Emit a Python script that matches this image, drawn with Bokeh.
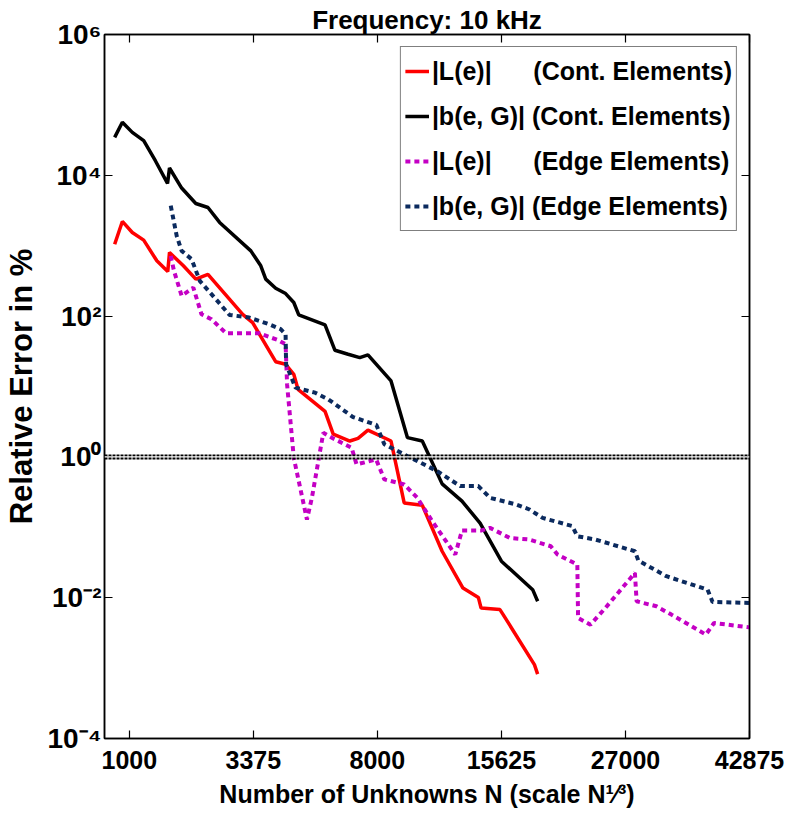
import numpy as np
from bokeh.plotting import figure
from bokeh.models import (FixedTicker, LinearAxis, LogAxis, Span,
                          Legend, LegendItem, CustomJSTickFormatter)
from bokeh.embed import file_html
from bokeh.resources import INLINE

FONT = "'Liberation Sans', Arial, sans-serif"

title_text = "Frequency: 10 kHz"
x_label = "Number of Unknowns N (scale N\u00b9\u2044\u00b3)"
y_label = "Relative Error in %"

x_tick_N = [1000, 3375, 8000, 15625, 27000, 42875]
y_tick_exp = [-4, -2, 0, 2, 4, 6]

legend_labels = [
    "|L(e)|" + "\u00a0" * 6 + "(Cont. Elements)",
    "|b(e, G)| (Cont. Elements)",
    "|L(e)|" + "\u00a0" * 6 + "(Edge Elements)",
    "|b(e, G)| (Edge Elements)",
]

# x values are N^(1/3), errors in %
cont_L_x = [9.41, 9.72, 10.12, 10.58, 11.11, 11.55, 11.62, 12.18, 12.68, 13.17, 14.57, 14.97,
            15.90, 16.30, 16.63, 16.80, 17.89, 18.22, 18.89, 19.22, 19.62, 20.55, 21.08, 21.81,
            22.61, 23.45, 24.07, 24.18, 24.94, 25.07, 26.33, 26.46]
cont_L_err = [1050, 2210, 1540, 1200, 610, 430, 800, 518, 335, 392, 106, 80.9,
              22.5, 20.7, 14.9, 9.12, 4.42, 2.11, 1.68, 1.83, 2.40, 1.68, 0.222, 0.206,
              0.0457, 0.0137, 0.0101, 0.00714, 0.00678, 0.00575, 0.00112, 0.000822]

cont_b_x = [9.41, 9.72, 10.12, 10.58, 11.05, 11.54, 11.62, 12.11, 12.68, 13.17, 13.64, 14.90,
            15.30, 15.50, 15.90, 16.30, 16.63, 16.83, 17.89, 18.29, 18.82, 19.29, 19.62, 20.55,
            21.21, 21.81, 22.61, 23.41, 24.14, 25.00, 26.26, 26.46]
cont_b_err = [34600, 56600, 40700, 31000, 16100, 7670, 12700, 6590, 3980, 3490, 2140, 845,
              518, 335, 249, 209, 156, 104, 75.0, 32.7, 28.7, 25.7, 28.1, 12.0,
              1.88, 1.68, 0.414, 0.235, 0.115, 0.033, 0.0130, 0.00889]

edge_L_x = [11.67, 11.80, 12.11, 12.58, 12.91, 13.31, 13.90, 15.23, 15.97, 16.30, 16.36, 16.63,
            17.16, 17.36, 17.82, 18.22, 18.96, 19.16, 19.95, 20.28, 21.08, 21.61, 22.21, 23.14,
            23.41, 24.20, 24.54, 25.34, 26.13, 26.99, 27.26, 28.06, 28.09, 28.59, 29.19, 30.38,
            30.45, 31.25, 31.85, 33.24, 33.57, 35.0]
edge_L_err = [718, 440, 194, 254, 106, 90.4, 57.1, 57.1, 45.9, 39.8, 10.7, 0.970,
              0.129, 0.262, 2.20, 1.83, 1.35, 0.782, 0.920, 0.479, 0.406, 0.262, 0.122, 0.0410,
              0.0902, 0.0902, 0.0982, 0.0706, 0.0670, 0.0538, 0.0410, 0.0296, 0.00515, 0.00414, 0.00714, 0.0225,
              0.00889, 0.00755, 0.00575, 0.00299, 0.00437, 0.00379]

edge_b_x = [11.67, 11.91, 12.11, 12.51, 12.84, 13.31, 14.04, 14.83, 15.63, 16.10, 16.30, 16.32,
            16.70, 17.49, 18.02, 19.02, 19.96, 20.28, 21.48, 22.41, 23.34, 24.07, 24.54, 25.60,
            26.13, 26.66, 27.86, 28.06, 28.79, 30.38, 30.52, 31.65, 33.31, 33.51, 35.0]
edge_b_err = [3700, 1380, 845, 644, 317, 205, 104, 95.3, 76.7, 65.2, 55.3, 20.7,
              9.62, 8.17, 6.58, 3.68, 2.84, 1.51, 0.920, 0.628, 0.385, 0.385, 0.262, 0.211,
              0.179, 0.136, 0.104, 0.0746, 0.0670, 0.0457, 0.0337, 0.0202, 0.0130, 0.00869, 0.00841]

x_start, x_end = 9, 35
y_start, y_end = 1e-4, 1e6

SUP = str.maketrans("-0123456789", "\u207b\u2070\u00b9\u00b2\u00b3\u2074\u2075\u2076\u2077\u2078\u2079")
x_ticks = [int(round(float(np.cbrt(n)))) for n in x_tick_N]
y_ticks = [10.0 ** e for e in y_tick_exp]
y_tick_text = ["10" + str(e).translate(SUP) for e in y_tick_exp]

W, H = 792, 826
p = figure(width=W, height=H, x_range=(x_start, x_end), y_range=(y_start, y_end),
           y_axis_type="log", output_backend="svg", toolbar_location=None,
           min_border_left=97, min_border_right=W - 749, min_border_top=34,
           min_border_bottom=H - 738)
p.background_fill_color = "white"
p.border_fill_color = "white"
p.outline_line_color = "black"
p.outline_line_width = 1.5
p.xgrid.visible = False
p.ygrid.visible = False

p.title.text = title_text
p.title.align = "center"
p.title.text_font = FONT
p.title.text_font_style = "bold"
p.title.text_font_size = "26px"
p.title.text_color = "black"
p.title.standoff = 0
p.title.offset = 0

def style_axis(ax):
    ax.axis_line_color = "black"
    ax.axis_line_width = 1.5
    ax.major_tick_in = 8
    ax.major_tick_out = 0
    ax.major_tick_line_width = 1.2
    ax.major_tick_line_color = "black"
    ax.minor_tick_line_color = None
    ax.major_label_text_color = "black"
    ax.axis_label_text_color = "black"

# bottom axis
xa = p.xaxis[0]
xa.ticker = FixedTicker(ticks=x_ticks)
xa.major_label_overrides = {t: str(n) for t, n in zip(x_ticks, x_tick_N)}
xa.major_label_text_font = FONT
xa.major_label_text_font_style = "bold"
xa.major_label_text_font_size = "25px"
xa.major_label_standoff = 12
xa.axis_label = x_label
xa.axis_label_text_font = FONT
xa.axis_label_text_font_style = "bold"
xa.axis_label_text_font_size = "25px"
xa.axis_label_standoff = 8
style_axis(xa)

# left axis
ya = p.yaxis[0]
ya.ticker = FixedTicker(ticks=y_ticks)
ya.major_label_overrides = {t: s for t, s in zip(y_ticks, y_tick_text)}
ya.major_label_text_font = FONT
ya.major_label_text_font_style = "bold"
ya.major_label_text_font_size = "28px"
ya.major_label_standoff = 3
ya.axis_label = y_label
ya.axis_label_text_font = FONT
ya.axis_label_text_font_style = "bold"
ya.axis_label_text_font_size = "31px"
ya.axis_label_standoff = 6
style_axis(ya)

# mirrored top / right axes (ticks only)
blank = CustomJSTickFormatter(code="return ''")
top = LinearAxis(ticker=FixedTicker(ticks=x_ticks), formatter=blank,
                 major_label_text_font_size="1px", major_label_standoff=0)
style_axis(top)
p.add_layout(top, "above")
right = LogAxis(ticker=FixedTicker(ticks=y_ticks), formatter=blank,
                major_label_text_font_size="1px", major_label_standoff=0)
style_axis(right)
p.add_layout(right, "right")

# data lines
r1 = p.line(cont_L_x, cont_L_err, line_color="#ff0000", line_width=3.5)
r2 = p.line(cont_b_x, cont_b_err, line_color="black", line_width=3.5)
r3 = p.line(edge_L_x, edge_L_err, line_color="#c400c4", line_width=4, line_dash="5 4")
r4 = p.line(edge_b_x, edge_b_err, line_color="#0b2a5e", line_width=4, line_dash="5 4")

# 100 % reference level (double dotted)
p.add_layout(Span(location=1, dimension="width", line_color="black", line_width=5,
                  line_dash="3 1"))
p.add_layout(Span(location=1, dimension="width", line_color="white", line_width=1.2))

legend = Legend(items=[LegendItem(label=lab, renderers=[r]) for lab, r in
                       zip(legend_labels, [r1, r2, r3, r4])],
                location="top_right")
legend.margin = 12
legend.padding = 4
legend.spacing = 5
legend.glyph_width = 24
legend.glyph_height = 40
legend.label_height = 40
legend.label_standoff = 3
legend.label_text_font = FONT
legend.label_text_font_style = "bold"
legend.label_text_font_size = "25px"
legend.label_text_color = "black"
legend.label_text_baseline = "middle"
legend.border_line_color = "black"
legend.border_line_width = 1.5
legend.background_fill_alpha = 1.0
p.add_layout(legend)

open("out.html", "w").write(file_html(p, INLINE))
